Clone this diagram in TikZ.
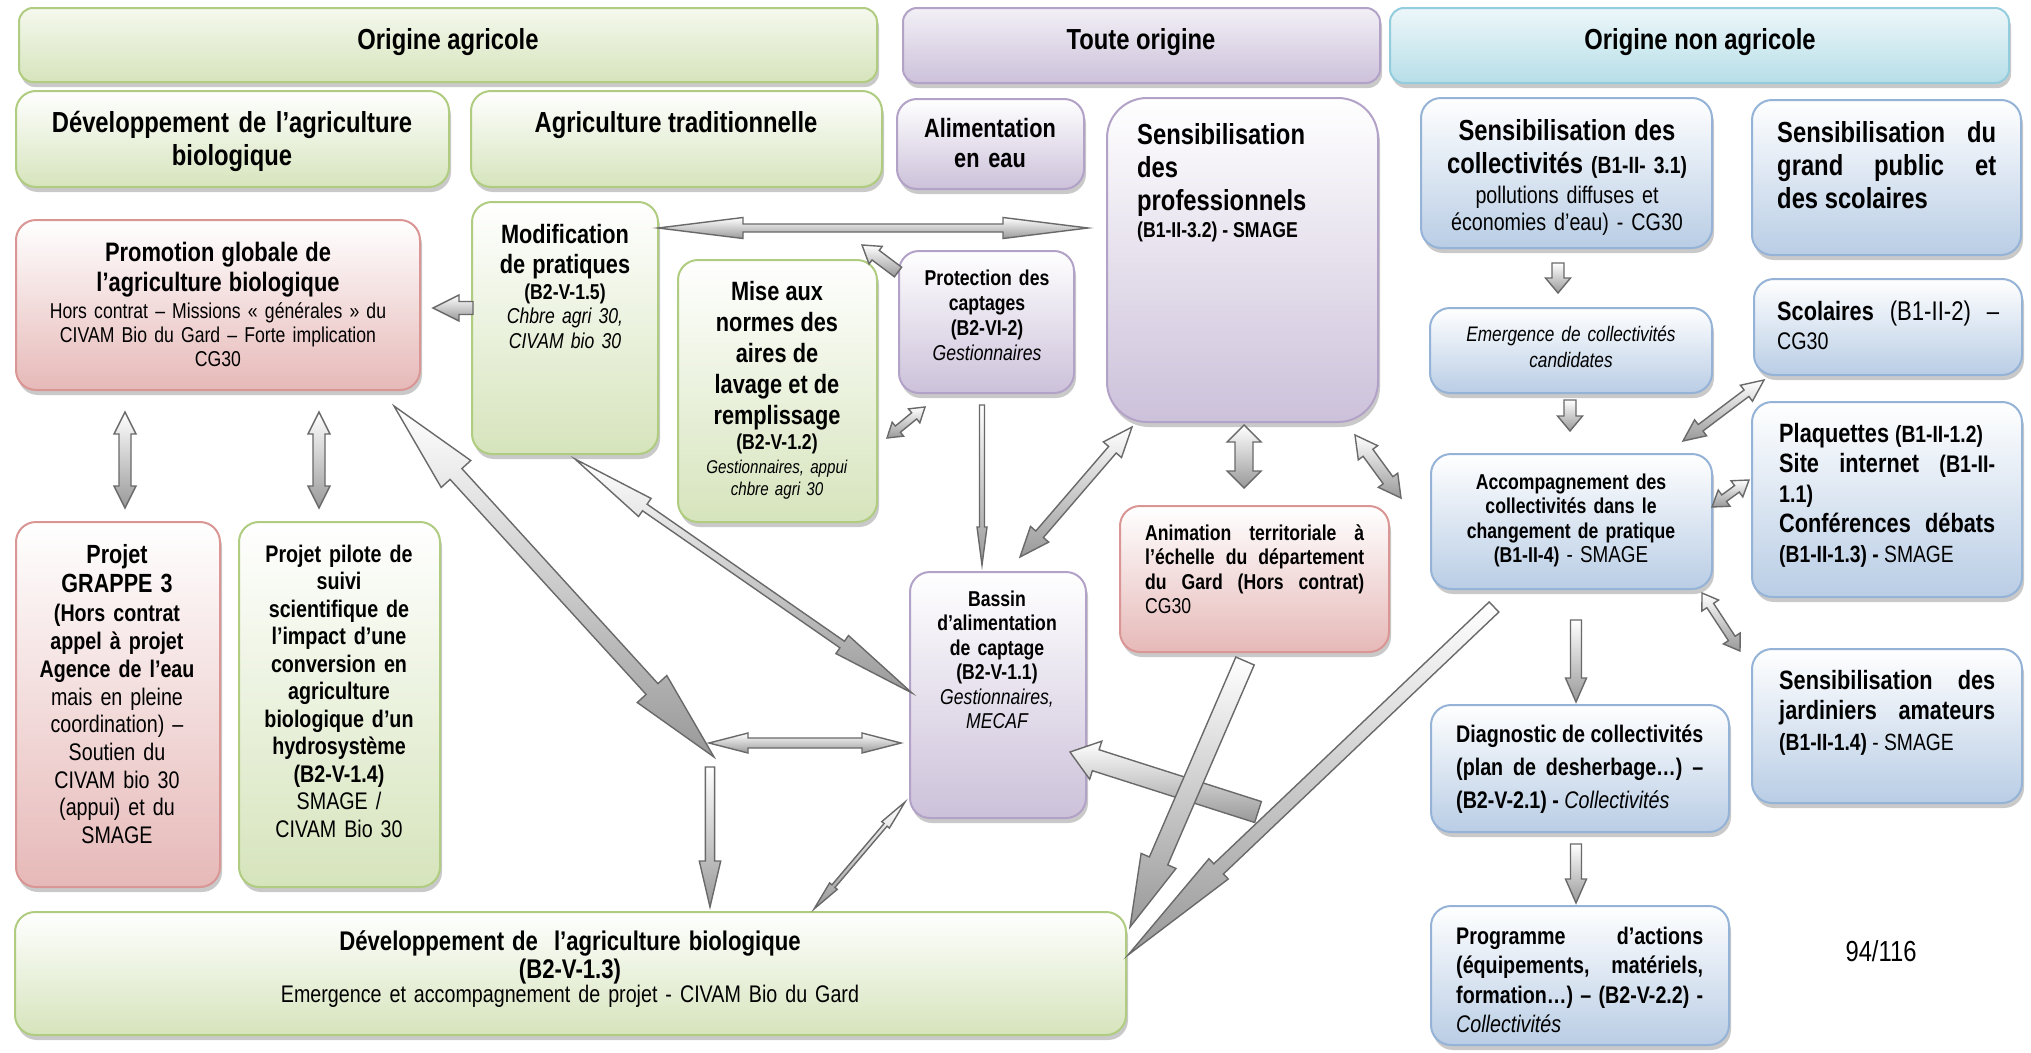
\documentclass[tikz,border=0pt]{standalone}
\usepackage{fontspec}
\setmainfont{Liberation Sans}[FakeStretch=0.82]
\usetikzlibrary{calc,fit,shadows}
\definecolor{grB}{RGB}{176,204,128}
\definecolor{grF}{RGB}{214,228,188}
\definecolor{puB}{RGB}{179,162,199}
\definecolor{puF}{RGB}{204,193,218}
\definecolor{reB}{RGB}{217,150,148}
\definecolor{reF}{RGB}{230,185,184}
\definecolor{blB}{RGB}{149,179,215}
\definecolor{blF}{RGB}{185,205,229}
\definecolor{cyB}{RGB}{147,205,221}
\definecolor{cyF}{RGB}{183,222,232}
\definecolor{arB}{RGB}{105,105,105}
\newcommand\fz[2]{\fontsize{#1}{#2}\selectfont\lineskiplimit=-100pt\relax}
\newcommand\sz[2]{{\fontsize{#1}{#1}\selectfont #2}}
\newcommand\jl[2]{\makebox[#1pt][s]{\spaceskip=0pt\xspaceskip=0pt #2}}
% single block arrow: from, to, shaft half, head half, head length
\newcommand\sarrow[5]{%
  \coordinate (tmpH) at ($(#2)!#5!(#1)$);
  \shadedraw[barrow] ($(#1)!#3!90:(#2)$) -- ($(tmpH)!#3!90:(#2)$) -- ($(tmpH)!#4!90:(#2)$) -- (#2)
    -- ($(tmpH)!#4!-90:(#2)$) -- ($(tmpH)!#3!-90:(#2)$) -- ($(#1)!#3!-90:(#2)$) -- cycle;}
% double block arrow
\newcommand\darrow[5]{%
  \coordinate (tmpA) at ($(#1)!#5!(#2)$);
  \coordinate (tmpB) at ($(#2)!#5!(#1)$);
  \shadedraw[barrow] (#1) -- ($(tmpA)!#4!90:(#2)$) -- ($(tmpA)!#3!90:(#2)$) -- ($(tmpB)!#3!90:(#2)$)
    -- ($(tmpB)!#4!90:(#2)$) -- (#2) -- ($(tmpB)!#4!-90:(#2)$) -- ($(tmpB)!#3!-90:(#2)$)
    -- ($(tmpA)!#3!-90:(#2)$) -- ($(tmpA)!#4!-90:(#2)$) -- cycle;}
\begin{document}
\begin{tikzpicture}[x=1pt,y=-1pt,
  bx/.style={rounded corners=20pt, line width=2pt, inner sep=0pt,
     drop shadow={shadow xshift=2pt,shadow yshift=-5pt,opacity=.35,fill=black!60}},
  bxg/.style={bx,draw=grB,top color=white,bottom color=grF},
  bxp/.style={bx,draw=puB,top color=white,bottom color=puF},
  bxr/.style={bx,draw=reB,top color=white,bottom color=reF},
  bxb/.style={bx,draw=blB,top color=white,bottom color=blF},
  hd/.style={bx, rounded corners=14pt},
  hdg/.style={hd,draw=grB,top color=grF!25!white,bottom color=grF},
  hdp/.style={hd,draw=puB,top color=puF!25!white,bottom color=puF},
  hdc/.style={hd,draw=cyB,top color=cyF!25!white,bottom color=cyF},
  txt/.style={inner sep=0pt, anchor=base, text=black},
  ctx/.style={txt, align=center},
  ltx/.style={txt, anchor=base west, align=flush left},
  barrow/.style={draw=arB, line width=1.4pt, top color=white, bottom color=black!40, line join=miter}]
\useasboundingbox (0,0) rectangle (2031,1052);
\fill[white] (0,0) rectangle (2031,1052);

% ---------- boxes ----------
\node[hdg, fit={(19,8) (877,82)}] (hoa) {};
\node[hdp, fit={(903,8) (1380,83)}] (hto) {};
\node[hdc, fit={(1390,8) (2009,83)}] (hona) {};
\node[bxg, fit={(16,91) (449,187)}] (dev) {};
\node[bxg, fit={(471,91) (882,187)}] (trad) {};
\node[bxp, fit={(897,99) (1084,189)}] (alim) {};
\node[bxp, rounded corners=40pt, fit={(1107,98) (1378,422)}] (sprof) {};
\node[bxb, fit={(1421,98) (1712,248)}] (scoll) {};
\node[bxb, fit={(1752,100) (2021,255)}] (sgp) {};
\node[bxr, fit={(16,220) (420,390)}] (promo) {};
\node[bxg, fit={(472,202) (658,454)}] (modif) {};
\node[bxg, fit={(678,260) (877,522)}] (mise) {};
\node[bxp, fit={(899,251) (1074,393)}] (prot) {};
\node[bxb, fit={(1430,308) (1712,393)}] (emer) {};
\node[bxb, fit={(1754,279) (2022,375)}] (scol) {};
\node[bxb, fit={(1431,454) (1712,589)}] (accomp) {};
\node[bxb, fit={(1752,402) (2022,597)}] (plaq) {};
\node[bxr, fit={(1120,506) (1389,652)}] (anim) {};
\node[bxp, fit={(910,572) (1086,818)}] (bassin) {};
\node[bxr, fit={(16,522) (220,887)}] (grappe) {};
\node[bxg, fit={(239,522) (440,887)}] (pilote) {};
\node[bxb, fit={(1431,705) (1729,832)}] (diag) {};
\node[bxb, fit={(1752,649) (2022,803)}] (jard) {};
\node[bxb, fit={(1431,906) (1729,1045)}] (prog) {};
\node[bxg, fit={(15,912) (1126,1035)}] (devbot) {};

% ---------- arrow end points ----------
\coordinate (a1s) at (658,228);  \coordinate (a1e) at (1088,228);
\coordinate (a2s) at (473,308);  \coordinate (a2e) at (433,308);
\coordinate (a3s) at (898,272);  \coordinate (a3e) at (862,245);
\coordinate (a4s) at (887,438);  \coordinate (a4e) at (925,407);
\coordinate (a5s) at (982,405);  \coordinate (a5e) at (982,565);
\coordinate (a6s) at (1132,427); \coordinate (a6e) at (1020,557);
\coordinate (a7s) at (1244,425); \coordinate (a7e) at (1244,488);
\coordinate (a8s) at (1355,435); \coordinate (a8e) at (1401,498);
\coordinate (a9s) at (125,412);  \coordinate (a9e) at (125,508);
\coordinate (a10s) at (319,412); \coordinate (a10e) at (319,508);
\coordinate (a11s) at (394,406); \coordinate (a11e) at (714,757);
\coordinate (a12s) at (575,459); \coordinate (a12e) at (912,693);
\coordinate (a13s) at (709,743); \coordinate (a13e) at (901,743);
\coordinate (a14s) at (710,767); \coordinate (a14e) at (710,907);
\coordinate (a15s) at (905,802); \coordinate (a15e) at (814,909);
\coordinate (a16s) at (1258,812); \coordinate (a16e) at (1070,752);
\coordinate (a17s) at (1245,661); \coordinate (a17e) at (1130,927);
\coordinate (a18s) at (1494,607); \coordinate (a18e) at (1128,955);
\coordinate (a19s) at (1558,263); \coordinate (a19e) at (1558,293);
\coordinate (a20s) at (1570,400); \coordinate (a20e) at (1570,431);
\coordinate (a21s) at (1764,380); \coordinate (a21e) at (1683,441);
\coordinate (a22s) at (1712,507); \coordinate (a22e) at (1749,480);
\coordinate (a23s) at (1702,593); \coordinate (a23e) at (1740,651);
\coordinate (a24s) at (1576,620); \coordinate (a24e) at (1576,702);
\coordinate (a25s) at (1576,844); \coordinate (a25e) at (1576,903);

% ---------- arrows ----------
\darrow{a1s}{a1e}{4pt}{10.5pt}{85pt}
\sarrow{a2s}{a2e}{6.5pt}{13pt}{26pt}
\sarrow{a3s}{a3e}{6pt}{11pt}{17pt}
\darrow{a4s}{a4e}{4pt}{9pt}{14pt}
\sarrow{a5s}{a5e}{2.5pt}{5pt}{38pt}
\darrow{a6s}{a6e}{5pt}{12pt}{30pt}
\darrow{a7s}{a7e}{9pt}{17pt}{17pt}
\darrow{a8s}{a8e}{6pt}{12pt}{22pt}
\darrow{a9s}{a9e}{6pt}{11pt}{22pt}
\darrow{a10s}{a10e}{6pt}{11pt}{22pt}
\darrow{a11s}{a11e}{8pt}{20pt}{92pt}
\darrow{a12s}{a12e}{4pt}{11pt}{85pt}
\darrow{a13s}{a13e}{5pt}{10pt}{39pt}
\sarrow{a14s}{a14e}{4.6pt}{10.7pt}{46pt}
\darrow{a15s}{a15e}{2pt}{5pt}{30pt}
\sarrow{a16s}{a16e}{11pt}{20pt}{27pt}
\sarrow{a17s}{a17e}{10pt}{19pt}{72pt}
\sarrow{a18s}{a18e}{7pt}{14pt}{125pt}
\sarrow{a19s}{a19e}{6pt}{12.5pt}{15pt}
\sarrow{a20s}{a20e}{6pt}{12.5pt}{15pt}
\darrow{a21s}{a21e}{4pt}{10pt}{22pt}
\darrow{a22s}{a22e}{4pt}{10pt}{15pt}
\darrow{a23s}{a23e}{4pt}{10pt}{15pt}
\sarrow{a24s}{a24e}{5.5pt}{10.5pt}{24pt}
\sarrow{a25s}{a25e}{5.5pt}{10.5pt}{24pt}

% ---------- texts ----------
\node[ctx, font=\fz{29}{34}\bfseries] (t-hoa) at (448,49) {Origine agricole};
\node[ctx, font=\fz{29}{34}\bfseries] (t-hto) at (1141,49) {Toute origine};
\node[ctx, font=\fz{29}{34}\bfseries] (t-hona) at (1700,49) {Origine non agricole};

\node[ctx, text width=420pt, font=\fz{29}{33}\bfseries] (t-dev) at (232,132) {Développement de l’agriculture\\biologique};
\node[ctx, font=\fz{29}{33}\bfseries] (t-trad) at (676,132) {Agriculture traditionnelle};
\node[ctx, text width=180pt, font=\fz{26.5}{30}\bfseries] (t-alim) at (990,137) {Alimentation\\en eau};
\node[ltx, text width=240pt, font=\fz{29}{33}\bfseries] (t-sprof) at (1137,144) {Sensibilisation\\des\\professionnels\\[-6pt]\sz{21.5}{(B1-II-3.2) - SMAGE}};
\node[ctx, text width=285pt, font=\fz{24}{27}] (t-scoll) at (1567,140) {\sz{29}{\bfseries Sensibilisation des}\\[6pt]\sz{29}{\bfseries collectivités} \sz{23.5}{\bfseries (B1-II- 3.1)}\\[3pt]pollutions diffuses et\\économies d’eau) - CG30};
\node[ltx, text width=219pt, font=\fz{29}{33}\bfseries] (t-sgp) at (1777,142) {\jl{219}{Sensibilisation du}\\\jl{219}{grand public et}\\des scolaires};

\node[ctx, text width=400pt, font=\fz{21.5}{24}] (t-promo) at (218,261) {\sz{26.7}{\bfseries Promotion globale de}\\[6pt]\sz{26.7}{\bfseries l’agriculture biologique}\\[3pt]Hors contrat – Missions « générales » du\\CIVAM Bio du Gard – Forte implication\\CG30};
\node[ctx, text width=180pt, font=\fz{21.5}{24.5}] (t-modif) at (565,243) {\sz{26.5}{\bfseries Modification}\\[5.5pt]\sz{26.5}{\bfseries de pratiques}\\[1.5pt]\textbf{(B2-V-1.5)}\\\textit{Chbre agri 30,}\\\textit{CIVAM bio 30}};
\node[ctx, text width=195pt, font=\fz{18.5}{22}] (t-mise) at (777,300) {\sz{26.5}{\bfseries Mise aux}\\[9pt]\sz{26.5}{\bfseries normes des}\\[9pt]\sz{26.5}{\bfseries aires de}\\[9pt]\sz{26.5}{\bfseries lavage et de}\\[9pt]\sz{26.5}{\bfseries remplissage}\\[3pt]\sz{21.5}{\bfseries (B2-V-1.2)}\\[2pt]\textit{Gestionnaires, appui}\\\textit{chbre agri 30}};
\node[ctx, text width=170pt, font=\fz{21.5}{25}\bfseries] (t-prot) at (987,285) {Protection des\\captages\\(B2-VI-2)\\\mdseries\itshape Gestionnaires};
\node[ctx, text width=270pt, font=\fz{21}{26}\itshape] (t-emer) at (1571,341) {Emergence de collectivités\\candidates};
\node[ltx, text width=222pt, font=\fz{24}{29}] (t-scol) at (1777,320) {\jl{222}{\sz{26.5}{\bfseries Scolaires} \sz{27}{(B1-II-2)} \sz{27}{–}}\\CG30};

\node[ctx, text width=275pt, font=\fz{21.5}{24.5}\bfseries] (t-accomp) at (1571,489) {Accompagnement des\\collectivités dans le\\changement de pratique\\(B1-II-4) \mdseries\sz{23}{- SMAGE}};
\node[ltx, text width=216pt, font=\fz{26.5}{30}\bfseries] (t-plaq) at (1779,442) {Plaquettes \sz{23.5}{(B1-II-1.2)}\\\jl{216}{Site internet \sz{24}{(B1-II-}}\\\sz{24}{1.1)}\\\jl{216}{Conférences débats}\\\sz{23.5}{(B1-II-1.3) - \mdseries SMAGE}};
\node[ltx, text width=219pt, font=\fz{21.5}{24.5}\bfseries] (t-anim) at (1145,540) {\jl{219}{Animation territoriale à}\\\jl{219}{l’échelle du département}\\\jl{219}{du Gard (Hors contrat)}\\\mdseries CG30};
\node[ctx, text width=170pt, font=\fz{21.5}{24.5}\bfseries] (t-bassin) at (997,606) {Bassin\\d’alimentation\\de captage\\(B2-V-1.1)\\\mdseries\itshape Gestionnaires,\\MECAF};

\node[ctx, text width=200pt, font=\fz{24}{27.7}] (t-grappe) at (117,563) {\sz{26.3}{\bfseries Projet}\\[2pt]\sz{26.3}{\bfseries GRAPPE 3}\\[1.5pt]\textbf{(Hors contrat}\\\textbf{appel à projet}\\\textbf{Agence de l’eau}\\mais en pleine\\coordination) –\\Soutien du\\CIVAM bio 30\\(appui) et du\\SMAGE};
\node[ctx, text width=200pt, font=\fz{24}{27.5}\bfseries] (t-pilote) at (339,562) {Projet pilote de\\suivi\\scientifique de\\l’impact d’une\\conversion en\\agriculture\\biologique d’un\\hydrosystème\\(B2-V-1.4)\\\mdseries SMAGE /\\CIVAM Bio 30};

\node[ltx, text width=250pt, font=\fz{24}{33}\bfseries] (t-diag) at (1456,742) {\jl{247}{Diagnostic de collectivités}\\\jl{247}{(plan de desherbage…) –}\\(B2-V-2.1) - \mdseries\itshape Collectivités};
\node[ltx, text width=250pt, font=\fz{24}{29.5}\bfseries] (t-prog) at (1456,944) {\jl{247}{Programme d’actions}\\\jl{247}{(équipements, matériels,}\\\jl{247}{formation…) – (B2-V-2.2) -}\\\mdseries\itshape Collectivités};
\node[ltx, text width=216pt, font=\fz{26.5}{30.5}\bfseries] (t-jard) at (1779,689) {\jl{216}{Sensibilisation des}\\\jl{216}{jardiniers amateurs}\\\sz{23.5}{(B1-II-1.4) \mdseries - SMAGE}};

\node[ctx, text width=900pt, font=\fz{24}{24}] (t-devbot) at (570,950) {\sz{27}{\bfseries Développement de\ \ l’agriculture biologique}\\[4pt]\sz{27}{\bfseries (B2-V-1.3)}\\Emergence et accompagnement de projet - CIVAM Bio du Gard};

\node[ctx, font=\fz{29}{30}] (t-page) at (1881,961) {94/116};
\end{tikzpicture}
\end{document}
